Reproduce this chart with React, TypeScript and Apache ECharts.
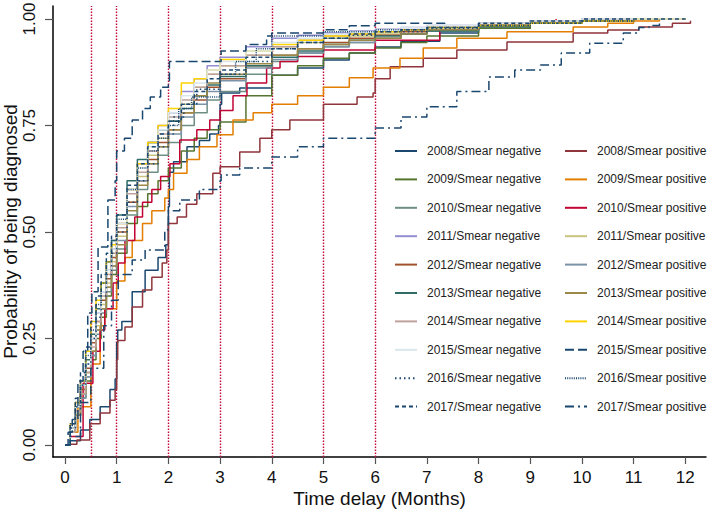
import React, { useEffect, useRef } from "react";
import * as echarts from "echarts";

// ---- Data (months since start, cumulative probability of being diagnosed) ----
const xTicks = [0, 1, 2, 3, 4, 5, 6, 7, 8, 9, 10, 11, 12];
const yTicks = [0, 0.25, 0.5, 0.75, 1];
const refMonths = [0.5, 1, 2, 3, 4, 5, 6];

// shared time grid used by the tightly clustered curves
const months = [0, 0.1, 0.2, 0.3, 0.4, 0.5, 0.6, 0.7, 0.8, 0.9, 1.0, 1.2, 1.4, 1.6, 1.8, 2.0, 2.25, 2.5, 2.75, 3.0, 3.5, 4.0, 4.5, 5, 5.5, 6, 6.5, 7, 8, 9, 10, 11, 12];

const neg2009 = [0, .03, .07, .11, .15, .20, .25, .30, .35, .40, .45, .52, .56, .59, .62, .65, .69, .72, .74, .758, .82, .868, .89, .908, .92, .932, .945, .96, .978, .99, .995, 1, 1];
const neg2010 = [0, .03, .07, .11, .16, .21, .26, .31, .36, .41, .46, .54, .60, .64, .68, .71, .75, .78, .81, .83, .87, .90, .92, .935, .945, .955, .965, .972, .985, .99, .995, 1, 1];
const neg2011 = [0, .04, .09, .14, .19, .25, .31, .36, .41, .46, .52, .60, .66, .71, .75, .78, .83, .86, .89, .91, .935, .955, .962, .967, .972, .976, .98, .985, .99, .995, 1, 1, 1];
const neg2012 = [0, .04, .08, .13, .18, .24, .29, .34, .39, .44, .50, .57, .62, .67, .71, .74, .78, .81, .84, .86, .89, .915, .93, .945, .955, .962, .97, .975, .985, .99, .995, 1, 1];
const neg2013 = [0, .04, .09, .14, .20, .26, .32, .38, .43, .48, .54, .62, .67, .71, .74, .76, .79, .82, .845, .865, .89, .91, .925, .94, .95, .96, .965, .972, .982, .99, .995, 1, 1];
const neg2014 = [0, .03, .08, .12, .17, .23, .29, .35, .40, .45, .51, .59, .64, .69, .73, .77, .81, .84, .87, .89, .915, .935, .95, .96, .965, .97, .975, .98, .99, .995, 1, 1, 1];
const neg2015 = [0, .04, .09, .14, .19, .25, .31, .36, .41, .46, .52, .60, .65, .70, .74, .78, .82, .85, .88, .90, .925, .945, .955, .965, .97, .975, .98, .985, .99, .995, 1, 1, 1];
const neg2017 = [0, .05, .11, .17, .23, .29, .35, .40, .45, .49, .54, .61, .66, .70, .73, .76, .80, .83, .86, .88, .91, .93, .945, .955, .965, .97, .975, .98, .99, .995, 1, 1, 1];
const pos2011 = [0, .03, .07, .12, .17, .22, .28, .33, .38, .43, .49, .57, .63, .68, .72, .76, .80, .84, .87, .89, .915, .935, .945, .955, .96, .965, .972, .98, .985, .99, .995, 1, 1];
const pos2012 = [0, .03, .07, .11, .16, .21, .27, .32, .37, .42, .48, .56, .62, .66, .70, .73, .77, .80, .83, .855, .885, .905, .92, .935, .945, .955, .965, .975, .985, .99, .995, 1, 1];
const pos2013 = [0, .03, .07, .12, .17, .22, .27, .32, .37, .42, .47, .55, .61, .66, .70, .74, .78, .82, .85, .87, .895, .915, .93, .94, .95, .955, .965, .975, .985, .99, .995, 1, 1];
const pos2014 = [0, .05, .10, .15, .22, .29, .34, .38, .43, .47, .52, .60, .66, .71, .75, .79, .85, .86, .88, .905, .925, .94, .95, .96, .965, .97, .975, .98, .985, .99, .995, 1, 1];

// curves read individually as [month, probability]
const neg2008: number[][] = [[0, 0], [0.1, 0.01], [0.3, 0.035], [0.48, 0.06], [0.68, 0.09], [0.87, 0.13], [0.97, 0.155], [1.0, 0.24], [1.02, 0.27], [1.1, 0.29], [1.3, 0.36], [1.55, 0.41], [1.8, 0.44], [1.95, 0.47], [2.0, 0.56], [2.02, 0.64], [2.1, 0.665], [2.36, 0.70], [2.6, 0.715], [2.8, 0.73], [2.97, 0.75], [3.0, 0.80], [3.03, 0.826], [3.38, 0.838], [4, 0.868], [4.5, 0.885], [5, 0.904], [5.5, 0.92], [6, 0.934], [6.5, 0.948], [7.25, 0.967], [8, 0.978], [9, 0.99], [10, 0.995], [10.5, 1]];
const pos2008: number[][] = [[0, 0], [0.1, 0.002], [0.23, 0.012], [0.48, 0.05], [0.68, 0.075], [0.87, 0.105], [0.97, 0.13], [1.0, 0.2], [1.02, 0.245], [1.16, 0.277], [1.3, 0.324], [1.5, 0.364], [1.68, 0.394], [1.88, 0.427], [1.97, 0.458], [2.0, 0.52], [2.17, 0.535], [2.35, 0.565], [2.55, 0.59], [2.86, 0.638], [3.0, 0.653], [3.38, 0.688], [3.77, 0.72], [4.0, 0.74], [4.35, 0.763], [5, 0.8], [5.65, 0.817], [5.96, 0.826], [6.0, 0.86], [6.29, 0.888], [6.93, 0.908], [7.58, 0.927], [8.55, 0.946], [9.83, 0.967], [10.5, 0.974], [11.1, 0.981], [11.75, 0.99], [12.1, 0.996]];
const pos2009: number[][] = [[0, 0], [0.1, 0.03], [0.25, 0.09], [0.5, 0.19], [0.68, 0.28], [0.77, 0.32], [1.0, 0.385], [1.16, 0.44], [1.3, 0.48], [1.5, 0.52], [1.68, 0.55], [1.93, 0.58], [2.0, 0.6], [2.1, 0.638], [2.36, 0.67], [2.6, 0.7], [2.94, 0.728], [3.25, 0.763], [3.64, 0.78], [4.0, 0.8], [4.5, 0.82], [5, 0.84], [5.5, 0.862], [5.96, 0.885], [6.48, 0.908], [6.93, 0.932], [7.58, 0.955], [8.55, 0.97], [9.83, 0.981], [10.5, 0.99], [11, 0.995], [11.5, 1]];
const pos2010: number[][] = [[0, 0], [0.1, 0.02], [0.35, 0.145], [0.54, 0.22], [0.68, 0.27], [0.77, 0.32], [0.93, 0.38], [1.03, 0.427], [1.16, 0.48], [1.35, 0.535], [1.5, 0.57], [1.68, 0.6], [1.85, 0.63], [2.03, 0.66], [2.22, 0.716], [2.55, 0.74], [2.8, 0.763], [3.0, 0.785], [3.25, 0.82], [3.52, 0.85], [3.9, 0.885], [4.16, 0.9], [4.5, 0.912], [5, 0.927], [6, 0.95], [7.25, 0.975], [8, 0.985], [9, 0.995], [9.5, 1]];
const pos2015: number[][] = [[0, 0], [0.06, 0.03], [0.14, 0.06], [0.25, 0.15], [0.35, 0.22], [0.44, 0.31], [0.52, 0.36], [0.64, 0.465], [0.83, 0.575], [0.97, 0.62], [1.0, 0.69], [1.15, 0.72], [1.3, 0.763], [1.5, 0.79], [1.65, 0.817], [1.85, 0.84], [2.0, 0.855], [2.02, 0.9], [3.0, 0.9], [3.02, 0.925], [3.5, 0.94], [3.9, 0.96], [4.0, 0.967], [5, 0.975], [5.5, 0.984], [6, 0.99], [7.35, 1.0]];
const neg2016: number[][] = [[0, 0], [0.1, 0.04], [0.2, 0.09], [0.3, 0.14], [0.4, 0.19], [0.5, 0.25], [0.6, 0.3], [0.7, 0.35], [0.8, 0.4], [0.9, 0.45], [1, 0.5], [1.2, 0.57], [1.4, 0.62], [1.6, 0.66], [1.8, 0.7], [2, 0.73], [2.1, 0.77], [2.3, 0.8], [2.55, 0.835], [3, 0.87], [3.5, 0.9], [4, 0.93], [4.5, 0.945], [5, 0.955], [5.5, 0.962], [6, 0.97], [7, 0.978], [8, 0.985], [9, 0.99], [10, 0.995], [11, 1]];
const pos2016: number[][] = [[0, 0], [0.1, 0.05], [0.2, 0.1], [0.3, 0.15], [0.4, 0.21], [0.5, 0.27], [0.6, 0.33], [0.7, 0.38], [0.8, 0.43], [0.9, 0.48], [1, 0.53], [1.2, 0.6], [1.4, 0.65], [1.6, 0.69], [1.8, 0.72], [2, 0.75], [2.2, 0.79], [2.45, 0.817], [3, 0.87], [3.3, 0.9], [3.7, 0.93], [4, 0.96], [5, 0.97], [6, 0.975], [7, 0.98], [8, 0.985], [9, 0.99], [10, 0.995], [11, 1]];
const pos2017: number[][] = [[0, 0], [0.1, 0.02], [0.3, 0.1], [0.5, 0.18], [0.75, 0.28], [0.9, 0.34], [1.03, 0.4], [1.3, 0.434], [1.55, 0.458], [1.93, 0.505], [2.0, 0.55], [2.22, 0.575], [2.6, 0.6], [3.0, 0.62], [3.02, 0.634], [3.38, 0.65], [4, 0.676], [4.5, 0.7], [5, 0.72], [6, 0.744], [6.5, 0.77], [7, 0.794], [7.58, 0.83], [8.2, 0.864], [8.7, 0.88], [9.2, 0.892], [9.6, 0.92], [10.15, 0.943], [10.8, 0.967], [11.1, 0.98], [11.3, 0.985], [11.5, 1]];

const FONT = "'Liberation Sans', Arial, Helvetica, sans-serif";

const onGrid = (vals: number[]) => months.map((m, i) => [m, vals[i]]);

type Def = { name: string; data: number[][]; color: string; dash?: number[] | "solid" };

const defs: Def[] = [
  { name: "2008/Smear negative", data: neg2008, color: "#1a476f" },
  { name: "2008/Smear positive", data: pos2008, color: "#90353b" },
  { name: "2009/Smear negative", data: onGrid(neg2009), color: "#55752f" },
  { name: "2009/Smear positive", data: pos2009, color: "#e37e00" },
  { name: "2010/Smear negative", data: onGrid(neg2010), color: "#6e8e84" },
  { name: "2010/Smear positive", data: pos2010, color: "#c10534" },
  { name: "2011/Smear negative", data: onGrid(neg2011), color: "#938dd2" },
  { name: "2011/Smear positive", data: onGrid(pos2011), color: "#cac27e" },
  { name: "2012/Smear negative", data: onGrid(neg2012), color: "#a0522d" },
  { name: "2012/Smear positive", data: onGrid(pos2012), color: "#7b92a8" },
  { name: "2013/Smear negative", data: onGrid(neg2013), color: "#2d6d66" },
  { name: "2013/Smear positive", data: onGrid(pos2013), color: "#9c8847" },
  { name: "2014/Smear negative", data: onGrid(neg2014), color: "#bfa19c" },
  { name: "2014/Smear positive", data: onGrid(pos2014), color: "#ffd200" },
  { name: "2015/Smear negative", data: onGrid(neg2015), color: "#d9e6eb" },
  { name: "2015/Smear positive", data: pos2015, color: "#1a476f", dash: [9, 4] },
  { name: "2016/Smear negative", data: neg2016, color: "#1a476f", dash: [1.5, 3] },
  { name: "2016/Smear positive", data: pos2016, color: "#1a476f", dash: [1, 1.2] },
  { name: "2017/Smear negative", data: onGrid(neg2017), color: "#1a476f", dash: [4, 3] },
  { name: "2017/Smear positive", data: pos2017, color: "#1a476f", dash: [9, 4, 2, 4] },
];

export default function App() {
  const ref = useRef<HTMLDivElement>(null);
  useEffect(() => {
    if (!ref.current) return;
    const chart = echarts.init(ref.current, null, { renderer: "svg" });
    const series: any[] = defs.map((d, i) => ({
      name: d.name,
      type: "line",
      data: d.data,
      step: "end",
      symbol: "none",
      showSymbol: false,
      color: d.color,
      lineStyle: { color: d.color, width: 1.5, type: d.dash || "solid" },
      z: 3,
      ...(i === 0
        ? {
            markLine: {
              silent: true,
              symbol: ["none", "none"],
              label: { show: false },
              lineStyle: { color: "#c10534", width: 1.4, type: [1.5, 1.5] },
              data: refMonths.map((v) => ({ xAxis: v })),
              z: 1,
            },
          }
        : {}),
    }));
    const legendCommon = {
      orient: "vertical",
      top: 145,
      padding: 0,
      itemWidth: 22,
      itemHeight: 14,
      itemGap: 16.4,
      itemStyle: { color: "transparent", borderColor: "transparent", borderWidth: 0, opacity: 0 },
      textStyle: { fontFamily: FONT, fontSize: 12, color: "#222", padding: [0, 0, 0, 5] },
    };
    chart.setOption({
      animation: false,
      textStyle: { fontFamily: FONT },
      grid: { left: 53, right: 3, top: 6, bottom: 52, containLabel: false, outerBoundsMode: "none" },
      legend: [
        { ...legendCommon, left: 394, data: defs.filter((d) => d.name.includes("negative")).map((d) => d.name) },
        { ...legendCommon, left: 564, data: defs.filter((d) => d.name.includes("positive")).map((d) => d.name) },
      ],
      xAxis: {
        type: "value",
        min: -0.232,
        max: 12.4,
        name: "Time delay (Months)",
        nameLocation: "middle",
        nameGap: 32,
        nameMoveOverlap: false,
        nameTextStyle: { fontFamily: FONT, fontSize: 19, color: "#111" },
        axisLine: { show: true, onZero: false, lineStyle: { color: "#000", width: 1.5 } },
        axisTick: { show: true, length: 7, customValues: xTicks, lineStyle: { color: "#555", width: 1.2 } },
        axisLabel: { customValues: xTicks, fontFamily: FONT, fontSize: 17, color: "#111", margin: 12 },
        splitLine: { show: false },
      },
      yAxis: {
        type: "value",
        min: -0.0282,
        max: 1.0305,
        name: "Probability of being diagnosed",
        nameLocation: "middle",
        nameGap: 33,
        nameRotate: 90,
        nameMoveOverlap: false,
        nameTextStyle: { fontFamily: FONT, fontSize: 19, color: "#111" },
        axisLine: { show: true, onZero: false, lineStyle: { color: "#000", width: 1.5 } },
        axisTick: { show: true, length: 8, customValues: yTicks, lineStyle: { color: "#555", width: 1.2 } },
        axisLabel: {
          customValues: yTicks,
          rotate: 90,
          fontFamily: FONT,
          fontSize: 17,
          color: "#111",
          margin: 15,
          formatter: (v: number) => v.toFixed(2),
        },
        splitLine: { show: false },
      },
      series,
    });
    return () => chart.dispose();
  }, []);
  return (
    <div
      ref={ref}
      style={{ position: "fixed", left: 0, top: 0, width: 709, height: 509, background: "#fff" }}
    />
  );
}
